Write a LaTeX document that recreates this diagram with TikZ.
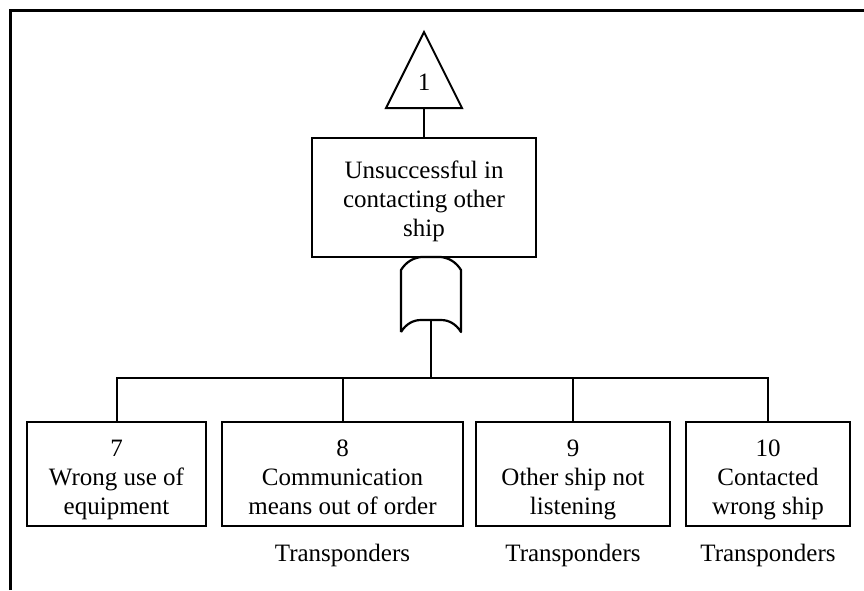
\documentclass[tikz,border=0pt]{standalone}
\usepackage{fontspec}
\setmainfont{Liberation Serif}
\newcommand{\ls}{\rule[-7pt]{0pt}{29pt}}
\begin{document}
\begin{tikzpicture}[x=1pt,y=-1pt,
  evbox/.style={draw,line width=2.6pt,inner sep=0pt},
  evtext/.style={align=center,inner sep=0pt,font=\fontsize{25}{29}\selectfont},
  conn/.style={line width=2pt},
  lbl/.style={font=\fontsize{25}{29}\selectfont,inner sep=0pt}]
\useasboundingbox (0,0) rectangle (864,590);
% frame
\draw[line width=3pt] (10,590) -- (10,10) -- (864,10);
% transfer triangle
\coordinate (tA) at (424,32);
\coordinate (tL) at (386,108);
\coordinate (tR) at (462,108);
\coordinate (tB) at (424,108);
\draw[line width=2pt,line join=miter] (tA) -- (tL) -- (tR) -- cycle;
\node[lbl] (t1) at (424,82) {1};
% top event
\node[evbox,minimum width=224pt,minimum height=119pt] (top) at (424,197.5) {};
\node[evtext] (topt) at (424,200) {\ls Unsuccessful in\\\ls contacting other\\\ls ship};
\draw[conn] (tB) -- (top.north);
% OR gate
\coordinate (gin) at (431,257);
\coordinate (gout) at (431,320);
\draw[line width=2.2pt,line join=round]
  (401,332) -- (401,270) .. controls (406,262) and (413,258) .. (421,257)
  -- (441,257) .. controls (449,258) and (456,262) .. (461,270)
  -- (461,332) .. controls (456,324) and (449,320) .. (441,320)
  -- (421,320) .. controls (413,320) and (406,324) .. (401,332);
% bottom events
\node[evbox,minimum width=179pt,minimum height=104pt] (b7) at (116.5,474) {};
\node[evbox,minimum width=241pt,minimum height=104pt] (b8) at (342.5,474) {};
\node[evbox,minimum width=194pt,minimum height=104pt] (b9) at (573,474) {};
\node[evbox,minimum width=164pt,minimum height=104pt] (b10) at (768,474) {};
\node[evtext] (b7t) at (116.5,477.5) {\ls 7\\\ls Wrong use of\\\ls equipment};
\node[evtext] (b8t) at (342.5,477.5) {\ls 8\\\ls Communication\\\ls means out of order};
\node[evtext] (b9t) at (573,477.5) {\ls 9\\\ls Other ship not\\\ls listening};
\node[evtext] (b10t) at (768,477.5) {\ls 10\\\ls Contacted\\\ls wrong ship};
\node[lbl,anchor=base] (l8) at (342.5,561) {Transponders};
\node[lbl,anchor=base] (l9) at (573,561) {Transponders};
\node[lbl,anchor=base] (l10) at (768,561) {Transponders};
% connectors
\coordinate (bus) at (431,378);
\draw[conn] (gout) -- (bus);
\draw[conn] (b7.north) |- (b10.north |- bus) -- (b10.north);
\draw[conn] (b8.north) -- (b8.north |- bus);
\draw[conn] (b9.north) -- (b9.north |- bus);
\end{tikzpicture}
\end{document}
